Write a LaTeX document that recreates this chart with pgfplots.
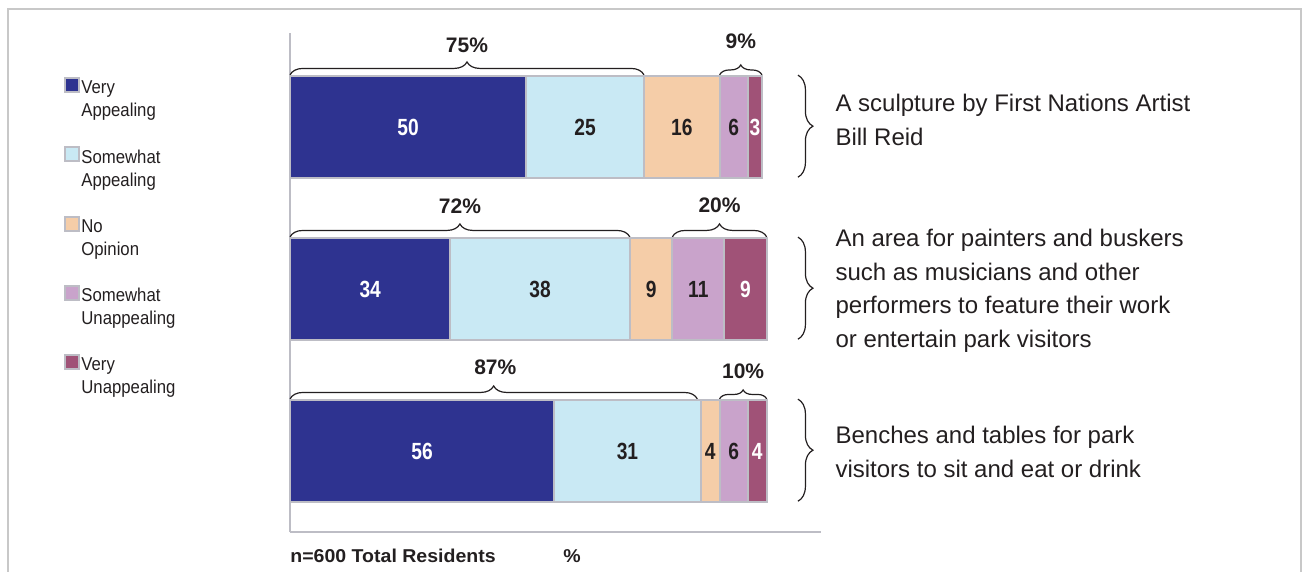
\documentclass[border=0pt]{standalone}
\usepackage{pgfplots}
\pgfplotsset{compat=1.18}
\usepackage{fontspec}
\setmainfont{Liberation Sans}
\newfontfamily\legfont{Liberation Sans}[FakeStretch=0.9]
\newfontfamily\numfont{Liberation Sans}[FakeStretch=0.82]
\newfontfamily\widefont{Liberation Sans}[FakeStretch=1.05]
\usetikzlibrary{decorations.pathreplacing}
\definecolor{cVA}{HTML}{2E3390}
\definecolor{cSA}{HTML}{C9E9F4}
\definecolor{cNO}{HTML}{F5CDA8}
\definecolor{cSU}{HTML}{C9A3CB}
\definecolor{cVU}{HTML}{A05277}
\definecolor{barline}{HTML}{BDBDC5}
\definecolor{axisgray}{HTML}{BDBDC5}
\definecolor{framegray}{HTML}{C8C8C8}
\definecolor{txt}{HTML}{231F20}
\begin{document}
\begin{tikzpicture}
\tikzset{num/.style={font=\numfont\bfseries\fontsize{11.7}{12}\selectfont, text=txt},
         wnum/.style={num, text=white},
         pct/.style={font=\bfseries\fontsize{10.5}{12}\selectfont, text=txt},
         br/.style={decorate, decoration={brace, amplitude=#1, raise=0.5pt}, line width=0.6pt, txt}}
\begin{scope}[x=0.5pt,y=-0.5pt]
\useasboundingbox (0,0) rectangle (1302,572);
\draw[framegray, line width=1pt] (8,572) -- (8,9) -- (1301,9) -- (1301,572);
\node[anchor=base west, inner sep=0pt, text=txt, font=\widefont\bfseries\fontsize{9.3}{11}\selectfont] at (290,562) {n=600 Total Residents};
\node[anchor=base west, inner sep=0pt, text=txt, font=\widefont\bfseries\fontsize{9.3}{11}\selectfont] at (563,562) {\%};
\end{scope}
\begin{axis}[
  at={(145pt,-266pt)}, anchor=south west,
  scale only axis, width=265.5pt, height=249.5pt,
  xmin=0, xmax=112.5, ymin=0.5, ymax=3.58,
  xbar stacked, bar width=0.63,
  axis x line*=bottom, axis y line*=left,
  xtick=\empty, ytick=\empty,
  axis line style={draw=axisgray, line width=1pt},
  clip=false,
  legend image code/.code={\draw[#1] (0pt,3.95pt) rectangle (7pt,10.95pt);},
  legend cell align=left,
  legend style={draw=none, fill=none, at={(-0.4256,0.9118)}, anchor=north west,
    inner sep=0pt, row sep=13.35pt,
    cells={anchor=west, align=left},
    nodes={inner sep=0pt, font=\legfont\fontsize{9.3}{11.5}\selectfont, text=txt},
    /tikz/every odd column/.style={column sep=0.5pt}},
]
\addplot[fill=cVA, draw=barline, line width=1pt] coordinates {(50,3) (34,2) (56,1)};
\addlegendentry{Very\\Appealing}
\addplot[fill=cSA, draw=barline, line width=1pt] coordinates {(25,3) (38,2) (31,1)};
\addlegendentry{Somewhat\\Appealing}
\addplot[fill=cNO, draw=barline, line width=1pt] coordinates {(16,3) (9,2) (4,1)};
\addlegendentry{No\\Opinion}
\addplot[fill=cSU, draw=barline, line width=1pt] coordinates {(6,3) (11,2) (6,1)};
\addlegendentry{Somewhat\\Unappealing}
\addplot[fill=cVU, draw=barline, line width=1pt] coordinates {(3,3) (9,2) (4,1)};
\addlegendentry{Very\\Unappealing}

\coordinate (a1) at (axis cs:25,3);
\coordinate (a2) at (axis cs:62.5,3);
\coordinate (a3) at (axis cs:83,3);
\coordinate (a4) at (axis cs:94,3);
\coordinate (a5) at (axis cs:98.5,3);
\coordinate (b1) at (axis cs:17,2);
\coordinate (b2) at (axis cs:53,2);
\coordinate (b3) at (axis cs:76.5,2);
\coordinate (b4) at (axis cs:86.5,2);
\coordinate (b5) at (axis cs:96.5,2);
\coordinate (c1) at (axis cs:28,1);
\coordinate (c2) at (axis cs:71.5,1);
\coordinate (c3) at (axis cs:89,1);
\coordinate (c4) at (axis cs:94,1);
\coordinate (c5) at (axis cs:99,1);

\draw[br=6.5pt] (axis cs:0,3.315) -- (axis cs:75,3.315);
\node[pct, yshift=15.5pt] at (axis cs:37.5,3.315) {75\%};
\draw[br=5pt] (axis cs:91,3.315) -- (axis cs:100,3.315);
\node[pct, yshift=17.5pt] at (axis cs:95.5,3.315) {9\%};
\draw[br=6.5pt] (axis cs:0,2.315) -- (axis cs:72,2.315);
\node[pct, yshift=16pt] at (axis cs:36,2.315) {72\%};
\draw[br=6.5pt] (axis cs:81,2.315) -- (axis cs:101,2.315);
\node[pct, yshift=16.5pt] at (axis cs:91,2.315) {20\%};
\draw[br=6.5pt] (axis cs:0,1.315) -- (axis cs:86.3,1.315);
\node[pct, yshift=16.5pt] at (axis cs:43.5,1.315) {87\%};
\draw[br=4.5pt] (axis cs:91,1.315) -- (axis cs:101,1.315);
\node[pct, yshift=14.5pt] at (axis cs:96,1.315) {10\%};

\draw[br=7.5pt] (axis cs:107.4,3.32) -- (axis cs:107.4,2.69);
\draw[br=7.5pt] (axis cs:107.4,2.32) -- (axis cs:107.4,1.69);
\draw[br=7.5pt] (axis cs:107.4,1.32) -- (axis cs:107.4,0.69);

\tikzset{side/.style={anchor=west, align=left, text=txt, font=\fontsize{12}{16.75}\selectfont, inner sep=0pt}}
\node[side, yshift=3.5pt] at (axis cs:115.5,3) {A sculpture by First Nations Artist\\Bill Reid};
\node[side, yshift=-1pt] at (axis cs:115.5,2) {An area for painters and buskers\\such as musicians and other\\performers to feature their work\\or entertain park visitors};
\node[side, yshift=-0.5pt] at (axis cs:115.5,1) {Benches and tables for park\\visitors to sit and eat or drink};
\end{axis}
\node[wnum] at (a1) {50};
\node[num] at (a2) {25};
\node[num] at (a3) {16};
\node[num] at (a4) {6};
\node[wnum] at (a5) {3};
\node[wnum] at (b1) {34};
\node[num] at (b2) {38};
\node[num] at (b3) {9};
\node[num] at (b4) {11};
\node[wnum] at (b5) {9};
\node[wnum] at (c1) {56};
\node[num] at (c2) {31};
\node[num] at (c3) {4};
\node[num] at (c4) {6};
\node[wnum] at (c5) {4};
\end{tikzpicture}
\end{document}
